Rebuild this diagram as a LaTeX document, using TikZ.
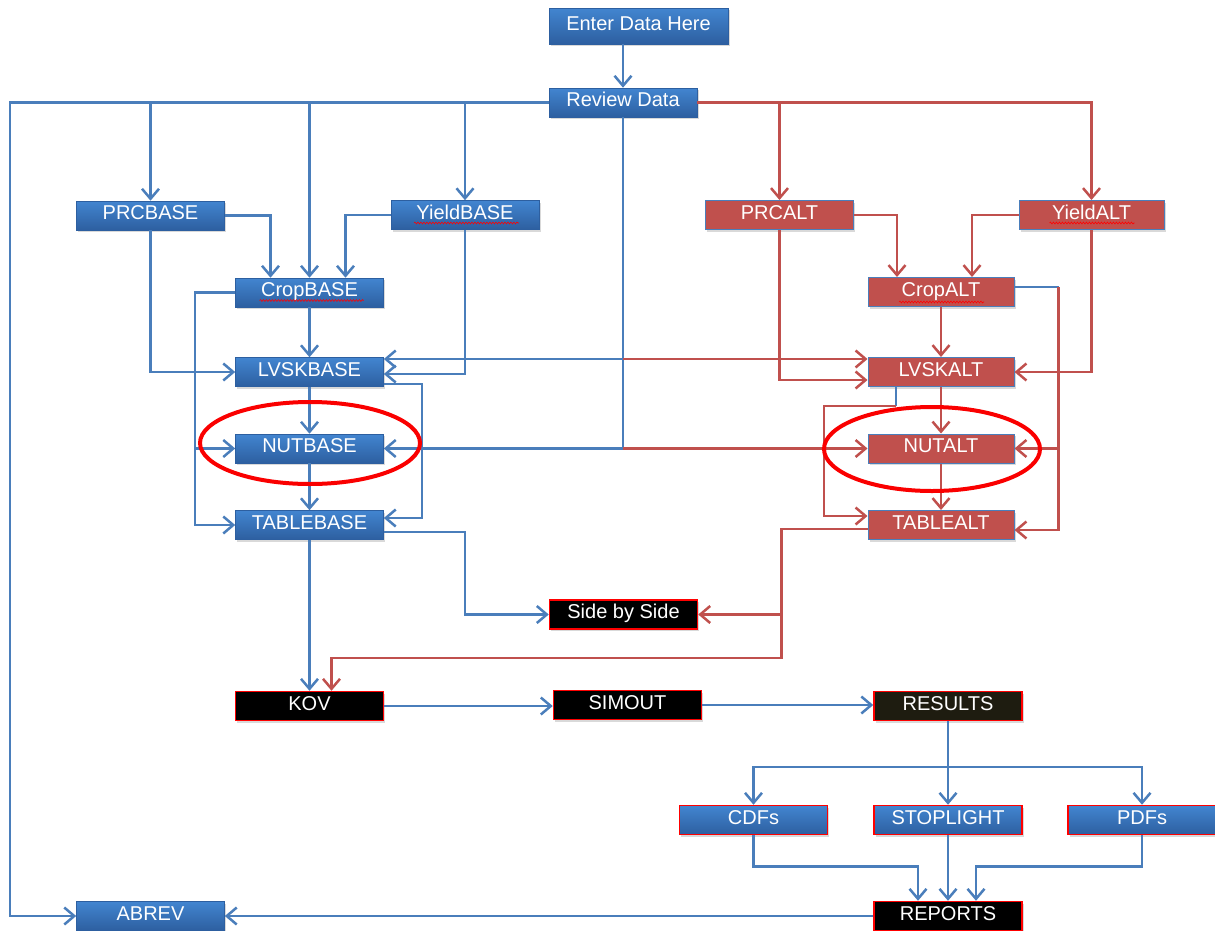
\documentclass[tikz,border=0pt]{standalone}
\usepackage{fontspec}
\setmainfont{Liberation Sans}
\usetikzlibrary{arrows.meta,shadows,decorations.pathmorphing}
\definecolor{lineblue}{RGB}{74,126,187}
\definecolor{linered}{RGB}{192,80,77}
\definecolor{boxtop}{RGB}{66,133,208}
\definecolor{boxbot}{RGB}{45,95,160}
\definecolor{boxred}{RGB}{192,80,77}
\definecolor{ringred}{RGB}{250,0,0}
\definecolor{resfill}{RGB}{30,28,16}

\begin{document}
\begin{tikzpicture}[x=1pt, y=-1pt,
  box/.style={minimum width=148pt, minimum height=29pt, inner sep=0pt, text=white,
    font=\fontsize{20}{22}\selectfont, text height=14pt, text depth=6pt,
    drop shadow={shadow xshift=1.5pt, shadow yshift=-2pt, opacity=0.3}},
  base/.style={box, top color=boxtop, bottom color=boxbot, draw=boxbot, line width=0.6pt},
  redge/.style={box, top color=boxtop, bottom color=boxbot, draw=red, line width=1.5pt},
  alt/.style={box, fill=boxred, draw=lineblue, line width=1pt},
  blk/.style={box, fill=black, draw=red, line width=1.5pt},
  bl/.style={draw=lineblue, line width=2.5pt},
  rd/.style={draw=linered, line width=2.5pt},
  arr/.style={-{Straight Barb[length=10pt, width=17pt]}},
  ring/.style={draw=ringred, line width=4pt},
  squig/.style={draw=red, line width=0.6pt, decorate,
    decoration={snake, amplitude=0.9pt, segment length=3pt}}]
\useasboundingbox (0,0) rectangle (1215,930);

\node[base, minimum width=179pt, minimum height=36pt] (enter) at (638.5,26) {Enter Data Here};
\node[base] (review) at (623,102.5) {Review Data};

\node[base] (prcbase) at (150.5,215.5) {PRCBASE};
\node[base] (yieldbase) at (465,215) {YieldBASE};
\node[base] (cropbase) at (309.5,292.5) {CropBASE};
\node[base] (lvskbase) at (309.5,372) {LVSKBASE};
\node[base] (nutbase) at (309.5,448.5) {NUTBASE};
\node[base] (tablebase) at (309.5,525) {TABLEBASE};

\node[alt] (prcalt) at (779.5,215) {PRCALT};
\node[alt, minimum width=145pt] (yieldalt) at (1091.5,215) {YieldALT};
\node[alt, minimum width=146pt] (cropalt) at (941,292) {CropALT};
\node[alt, minimum width=146pt] (lvskalt) at (941,372) {LVSKALT};
\node[alt, minimum width=146pt] (nutalt) at (941,448.5) {NUTALT};
\node[alt, minimum width=146pt] (tablealt) at (941,525) {TABLEALT};

\node[blk] (side) at (623.5,614.5) {Side by Side};
\node[blk] (kov) at (309.5,706) {KOV};
\node[blk] (simout) at (627.5,705) {SIMOUT};
\node[blk, fill=resfill] (results) at (948,706) {RESULTS};
\node[redge] (cdfs) at (753.5,820) {CDFs};
\node[redge] (stoplight) at (948,820) {STOPLIGHT};
\node[redge] (pdfs) at (1142,820) {PDFs};
\node[blk] (reports) at (948,916) {REPORTS};
\node[base] (abrev) at (150.5,916) {ABREV};

\draw[squig] ([xshift=-50pt,yshift=-8pt]cropbase.center) -- ([xshift=54pt,yshift=-8pt]cropbase.center);
\draw[squig] ([xshift=-51pt,yshift=-8pt]yieldbase.center) -- ([xshift=54pt,yshift=-8pt]yieldbase.center);
\draw[squig] ([xshift=-42pt,yshift=-10pt]cropalt.center) -- ([xshift=43pt,yshift=-10pt]cropalt.center);
\draw[squig] ([xshift=-42pt,yshift=-8pt]yieldalt.center) -- ([xshift=43pt,yshift=-8pt]yieldalt.center);

\coordinate (lft) at (10,102.5);
\draw[bl,arr] (enter.south -| review.north) -- (review.north);
\draw[bl,arr] (review.west) -- (lft) |- (abrev.west);
\draw[bl,arr] (review.west -| prcbase.north) -- (prcbase.north);
\draw[bl,arr] (review.west -| cropbase.north) -- (cropbase.north);
\draw[bl,arr] (review.west -| yieldbase.north) -- (yieldbase.north);

\coordinate (hub) at (623,359);
\draw[bl] (review.south) -- (review.south |- nutbase.east);
\draw[bl,arr] (hub) -- (hub -| lvskbase.east);
\draw[rd,arr] (hub) -- (hub -| lvskalt.west);
\draw[bl,arr] (review.south |- nutbase.east) -- (nutbase.east);
\draw[rd,arr] (review.south |- nutalt.west) -- (nutalt.west);

\draw[bl,arr] (prcbase.south) |- (lvskbase.west);
\draw[bl,arr] (prcbase.east) -| ([xshift=-39pt]cropbase.north);
\draw[bl,arr] (yieldbase.west) -| ([xshift=36pt]cropbase.north);
\draw[bl,arr] (yieldbase.south) |- ([yshift=-2pt]lvskbase.east);
\draw[bl,arr] (cropbase.south) -- (lvskbase.north);
\draw[bl,arr] (lvskbase.south) -- (nutbase.north);
\draw[bl,arr] (nutbase.south) -- (tablebase.north);

\coordinate (cbl) at ([xshift=-40pt]cropbase.west);
\draw[bl,arr] (cropbase.west) -- (cbl) |- (tablebase.west);
\draw[bl,arr] (cbl |- nutbase.west) -- (nutbase.west);
\draw[bl,arr] ([yshift=-12pt]lvskbase.east) -- ++(38,0) |- ([yshift=7pt]tablebase.east);
\draw[bl,arr] ([yshift=-7pt]tablebase.east) -- ++(81,0) |- (side.west);
\draw[bl,arr] (tablebase.south) -- (kov.north);

\draw[rd,arr] (review.east) -| (yieldalt.north);
\draw[rd,arr] (review.east -| prcalt.north) -- (prcalt.north);
\draw[rd,arr] (prcalt.east) -| ([xshift=-44pt]cropalt.north);
\draw[rd,arr] (yieldalt.west) -| ([xshift=31pt]cropalt.north);
\draw[rd,arr] (prcalt.south) |- ([yshift=-8pt]lvskalt.west);
\draw[rd,arr] (yieldalt.south) |- (lvskalt.east);
\draw[rd,arr] (cropalt.south) -- (lvskalt.north);
\draw[rd,arr] (lvskalt.south) -- (nutalt.north);
\draw[rd,arr] (nutalt.south) -- (tablealt.north);

\coordinate (car) at ([xshift=44pt,yshift=5pt]cropalt.east);
\draw[bl] ([yshift=5pt]cropalt.east) -- (car);
\draw[rd,arr] (car) |- ([yshift=-5pt]tablealt.east);
\draw[rd,arr] (car |- nutalt.east) -- (nutalt.east);
\draw[bl] ([xshift=-45pt]lvskalt.south) -- ++(0,19) coordinate (lab);
\draw[rd,arr] (lab) -- ++(-72,0) |- ([yshift=9pt]tablealt.west);

\draw[rd,arr] ([yshift=-4pt]tablealt.west) -- ++(-86,0) coordinate (tlc) -- ++(0,129) -| ([xshift=22pt]kov.north);
\draw[rd,arr] (tlc |- side.east) -- (side.east);

\draw[bl,arr] (kov.east) -- (kov.east -| simout.west);
\draw[bl,arr] (simout.east) -- (simout.east -| results.west);
\coordinate (fan) at (948,767);
\draw[bl,arr] (results.south) -- (stoplight.north);
\draw[bl,arr] (fan) -| (cdfs.north);
\draw[bl,arr] (fan) -| (pdfs.north);
\draw[bl,arr] (cdfs.south) -- ++(0,31) -| ([xshift=-30pt]reports.north);
\draw[bl,arr] (stoplight.south) -- (reports.north);
\draw[bl,arr] (pdfs.south) -- ++(0,31) -| ([xshift=28pt]reports.north);
\draw[bl,arr] (reports.west) -- (abrev.east);

\draw[ring] (310,443) ellipse [x radius=110pt, y radius=41pt];
\draw[ring] (932,449) ellipse [x radius=108pt, y radius=42pt];
\end{tikzpicture}
\end{document}
